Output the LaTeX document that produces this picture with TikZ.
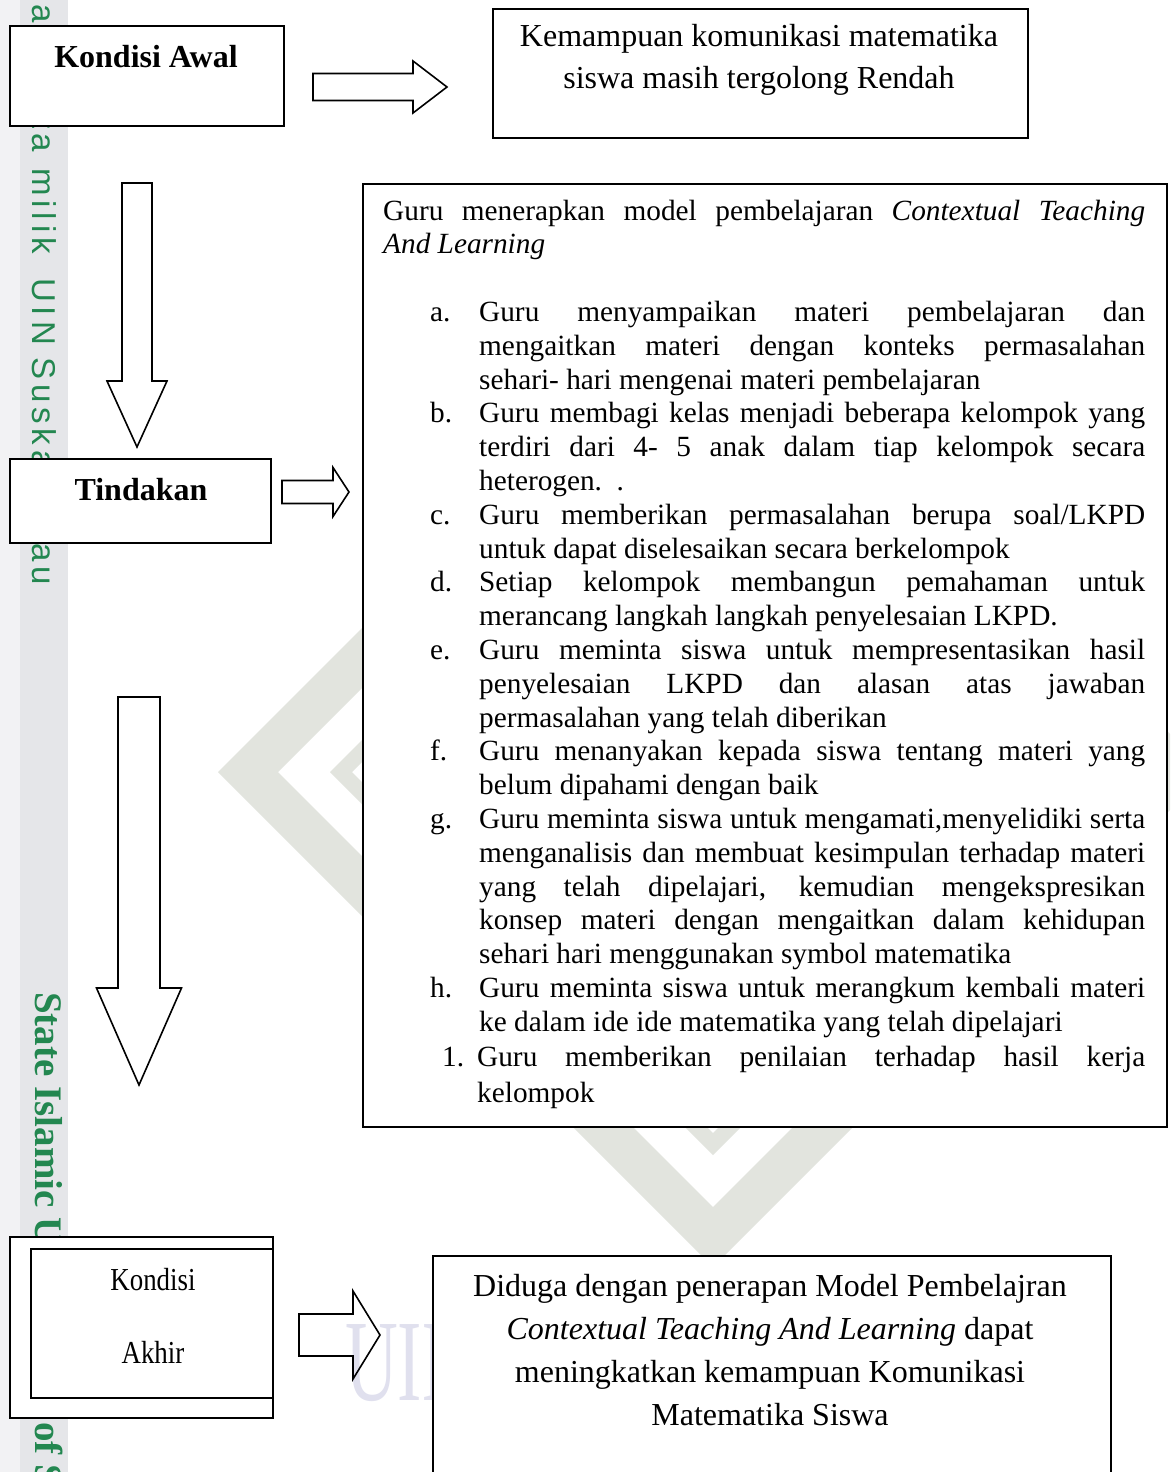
\documentclass[tikz,border=0pt]{standalone}
\usepackage{fontspec}
\usepackage{graphicx}
\setmainfont{Liberation Serif}
\newfontfamily\wmsans[LetterSpace=15]{Liberation Sans}
\newfontfamily\condserif[FakeStretch=0.84]{Liberation Serif}
\definecolor{wmgreen}{RGB}{35,135,80}
\definecolor{wmgray}{RGB}{226,228,222}
\definecolor{wmlav}{RGB}{224,224,238}
\definecolor{stripA}{RGB}{242,242,244}
\definecolor{stripB}{RGB}{229,230,233}
\newcommand\rblock[6]{\draw[blk] (#1,{#3-#4}) -- (#6,{#3-#4}) -- (#6,{#3-#5}) -- (#2,#3) -- (#6,{#3+#5}) -- (#6,{#3+#4}) -- (#1,{#3+#4}) -- cycle;}
\newcommand\dblock[6]{\draw[blk] ({#1-#4},#2) -- ({#1+#4},#2) -- ({#1+#4},#6) -- ({#1+#5},#6) -- (#1,#3) -- ({#1-#5},#6) -- ({#1-#4},#6) -- cycle;}
\newcommand\listitem[3]{\par\hangindent=#1pt\hangafter=1\noindent\makebox[#1pt][l]{\hspace*{#2pt}#3}\ignorespaces}
\begin{document}
\begin{tikzpicture}[x=1pt,y=-1pt,
  box/.style={draw=black, line width=1.6pt, fill=white, inner sep=0, anchor=north west},
  blk/.style={draw=black, line width=1.6pt, line join=miter},
  txt/.style={inner sep=0, anchor=base},
  wmA/.style={rotate=-90, anchor=base west, inner sep=0, text=wmgreen, font={\wmsans\fontsize{33}{33}\selectfont}},
  wmB/.style={rotate=-90, anchor=base west, inner sep=0, text=wmgreen, font={\bfseries\fontsize{39}{39}\selectfont}}]
\useasboundingbox (0,0) rectangle (1170,1472);
\clip (0,0) rectangle (1170,1472);
\fill[white] (0,0) rectangle (1170,1472);
% watermark strip
\fill[stripA] (0,0) rectangle (20,1472);
\fill[stripB] (20,0) rectangle (68,1472);
\node[wmA] (wm1a) at (32,-24) {Hak};
\node[wmA] (wm1b) at (32,62) {cipta};
\node[wmA] (wm1c) at (32,168) {milik};
\node[wmA] (wm1d) at (32,278) {UIN};
\node[wmA] (wm1e) at (32,357) {Suska};
\node[wmA] (wm1f) at (32,502) {Riau};
\node[wmB] (wm2a) at (35,992) {State Islamic University};
\node[wmB] (wm2b) at (35,1422) {of Sultan Syarif Kasim Riau};
% watermark logo
\fill[wmgray, even odd rule] (218,772) -- (713,277) -- (1208,772) -- (713,1267) -- cycle
  (278,772) -- (713,337) -- (1148,772) -- (713,1207) -- cycle;
\fill[wmgray, even odd rule] (330,772) -- (713,389) -- (1096,772) -- (713,1155) -- cycle
  (352,772) -- (713,411) -- (1074,772) -- (713,1133) -- cycle;
\node[anchor=base west, inner sep=0, text=wmlav, font={\fontsize{116}{116}\selectfont}] (wm3) at (345,1400) {\scalebox{0.63}[1]{UIN}};
% boxes
\node[box, minimum width=274pt, minimum height=100pt] (awal) at (9,25) {};
\node[txt, font={\bfseries\fontsize{32}{38}\selectfont}] (awaltext) at (146,67) {Kondisi Awal};
\node[box, minimum width=535pt, minimum height=129pt] (rendah) at (492,8) {};
\node[txt] (rendahtext) at (759,47) {\parbox[t]{520pt}{\centering\fontsize{32}{42}\selectfont Kemampuan komunikasi matematika\\siswa masih tergolong Rendah}};
\node[box, minimum width=261pt, minimum height=84pt] (tindakan) at (9,458) {};
\node[txt, font={\bfseries\fontsize{32}{38}\selectfont}] (tindakantext) at (141,500) {Tindakan};
\node[box, minimum width=804pt, minimum height=943pt] (ctl) at (362,183) {};
\node[inner sep=0, anchor=base west] (ctltext) at (383,220) {\parbox[t]{762pt}{\fontsize{29.3}{33.8}\selectfont\parindent=0pt\parskip=0pt
\noindent Guru menerapkan model pembelajaran \textit{Contextual Teaching}\linebreak \textit{And Learning}\par\vspace{33.8pt}
\listitem{96}{47}{a.}Guru menyampaikan materi pembelajaran dan\linebreak mengaitkan materi dengan konteks permasalahan\linebreak sehari- hari mengenai materi pembelajaran
\listitem{96}{47}{b.}Guru membagi kelas menjadi beberapa kelompok yang\linebreak terdiri dari 4- 5 anak dalam tiap kelompok secara\linebreak heterogen.\ \ .
\listitem{96}{47}{c.}Guru memberikan permasalahan berupa soal/LKPD\linebreak untuk dapat diselesaikan secara berkelompok
\listitem{96}{47}{d.}Setiap kelompok membangun pemahaman untuk\linebreak merancang langkah langkah penyelesaian LKPD.
\listitem{96}{47}{e.}Guru meminta siswa untuk mempresentasikan hasil\linebreak penyelesaian LKPD dan alasan atas jawaban\linebreak permasalahan yang telah diberikan
\listitem{96}{47}{f.}Guru menanyakan kepada siswa tentang materi yang\linebreak belum dipahami dengan baik
\listitem{96}{47}{g.}Guru meminta siswa untuk mengamati,menyelidiki serta\linebreak menganalisis dan membuat kesimpulan terhadap materi\linebreak yang telah dipelajari, kemudian mengekspresikan\linebreak konsep materi dengan mengaitkan dalam kehidupan\linebreak sehari hari menggunakan symbol matematika
\listitem{96}{47}{h.}Guru meminta siswa untuk merangkum kembali materi\linebreak ke dalam ide ide matematika yang telah dipelajari\par
\fontsize{29.3}{35.5}\selectfont
\listitem{94}{59}{1.}Guru memberikan penilaian terhadap hasil kerja\linebreak kelompok\par}};
\node[box, minimum width=263pt, minimum height=181pt] (akhir) at (9,1236) {};
\node[box, minimum width=242pt, minimum height=149pt] (akhirin) at (30,1248) {};
\node[txt, font={\condserif\fontsize{32}{38}\selectfont}] (akhirtext1) at (153,1290) {Kondisi};
\node[txt, font={\condserif\fontsize{32}{38}\selectfont}] (akhirtext2) at (153,1363) {Akhir};
\node[box, minimum width=678pt, minimum height=260pt] (hasil) at (432,1255) {};
\node[txt] (hasiltext) at (770,1296) {\parbox[t]{670pt}{\centering\fontsize{32}{43}\selectfont Diduga dengan penerapan Model Pembelajran\\\textit{Contextual Teaching And Learning} dapat\\meningkatkan kemampuan Komunikasi\\Matematika Siswa}};
% block arrows
\rblock{313}{447}{87}{13.5}{26}{413}
\rblock{282}{349}{492}{11.5}{24.5}{333}
\rblock{299}{380}{1335}{21}{44}{353}
\dblock{137}{183}{447}{15}{30}{381}
\dblock{139}{697}{1085}{21}{42.5}{988}
\end{tikzpicture}
\end{document}
